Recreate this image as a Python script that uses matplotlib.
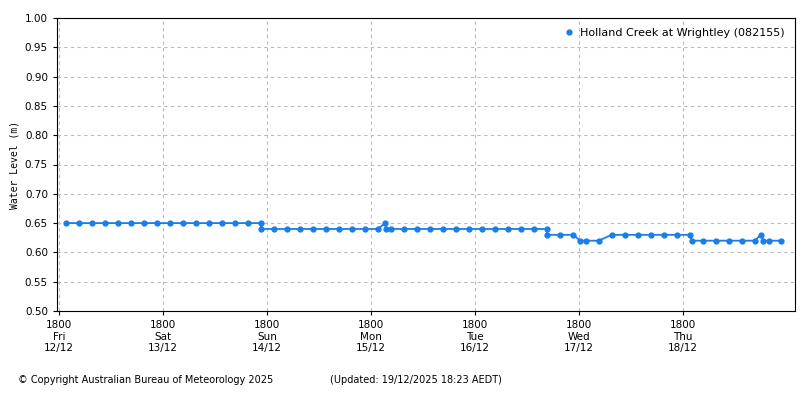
import matplotlib.pyplot as plt

# hours since Fri 12/12 18:00
hours = [1.5, 4.5, 7.5, 10.5, 13.5, 16.5, 19.5, 22.5, 25.5, 28.5, 31.5, 34.5, 37.5, 40.5, 43.5, 46.5,
         46.6, 49.5, 52.5, 55.5, 58.5, 61.5, 64.5, 67.5, 70.5, 73.5, 75.3, 75.4, 76.5,
         79.5, 82.5, 85.5, 88.5, 91.5, 94.5, 97.5, 100.5, 103.5, 106.5, 109.5, 112.5, 112.6,
         115.5, 118.5, 120.3, 121.5, 124.5, 127.5, 130.5, 133.5, 136.5, 139.5, 142.5,
         145.5, 146.0, 148.5, 151.5, 154.5, 157.5, 160.5, 161.9, 162.5, 163.8, 166.5]
level = [0.65] * 16 + \
        [0.64] * 10 + [0.65, 0.64, 0.64] + \
        [0.64] * 12 + [0.63] + \
        [0.63, 0.63, 0.62, 0.62, 0.62, 0.63, 0.63, 0.63, 0.63, 0.63, 0.63] + \
        [0.63, 0.62, 0.62, 0.62, 0.62, 0.62, 0.62, 0.63, 0.62, 0.62, 0.62]

tick_hours = [0, 24, 48, 72, 96, 120, 144]
tick_labels = ["1800\nFri\n12/12", "1800\nSat\n13/12", "1800\nSun\n14/12", "1800\nMon\n15/12",
               "1800\nTue\n16/12", "1800\nWed\n17/12", "1800\nThu\n18/12"]

blue = "#1a7de8"
plt.rcParams['font.size'] = 7.5

fig = plt.figure(figsize=(8, 4), dpi=100)
ax = fig.add_axes([57/800, 1 - 311/400, 738/800, 293/400])
ax.plot(hours, level, color=blue, lw=1.3, marker='o', ms=3.5,
        label="Holland Creek at Wrightley (082155)")
ax.set_xlim(-0.5, 169.8)
ax.set_ylim(0.5, 1.0)
ax.set_yticks([0.5 + 0.05 * i for i in range(11)])
ax.set_yticklabels([f"{0.5 + 0.05 * i:.2f}" for i in range(11)])
ax.set_xticks(tick_hours)
ax.set_xticklabels(tick_labels)
ax.grid(True, color="#bbbbbb", ls=(0, (3, 3)), lw=0.8)
ax.set_ylabel("Water Level (m)", family="DejaVu Sans Mono", fontsize=7)
ax.tick_params(length=3)
leg = ax.legend(loc="upper right", frameon=False, handlelength=0.8, handletextpad=0.6, fontsize=8)
leg.get_lines()[0].set_linestyle("none")

fig.text(18/800, 1 - 380/400, "© Copyright Australian Bureau of Meteorology 2025", fontsize=7, va="center")
fig.text(330/800, 1 - 380/400, "(Updated: 19/12/2025 18:23 AEDT)", fontsize=7, va="center")

fig.savefig("out.png")
